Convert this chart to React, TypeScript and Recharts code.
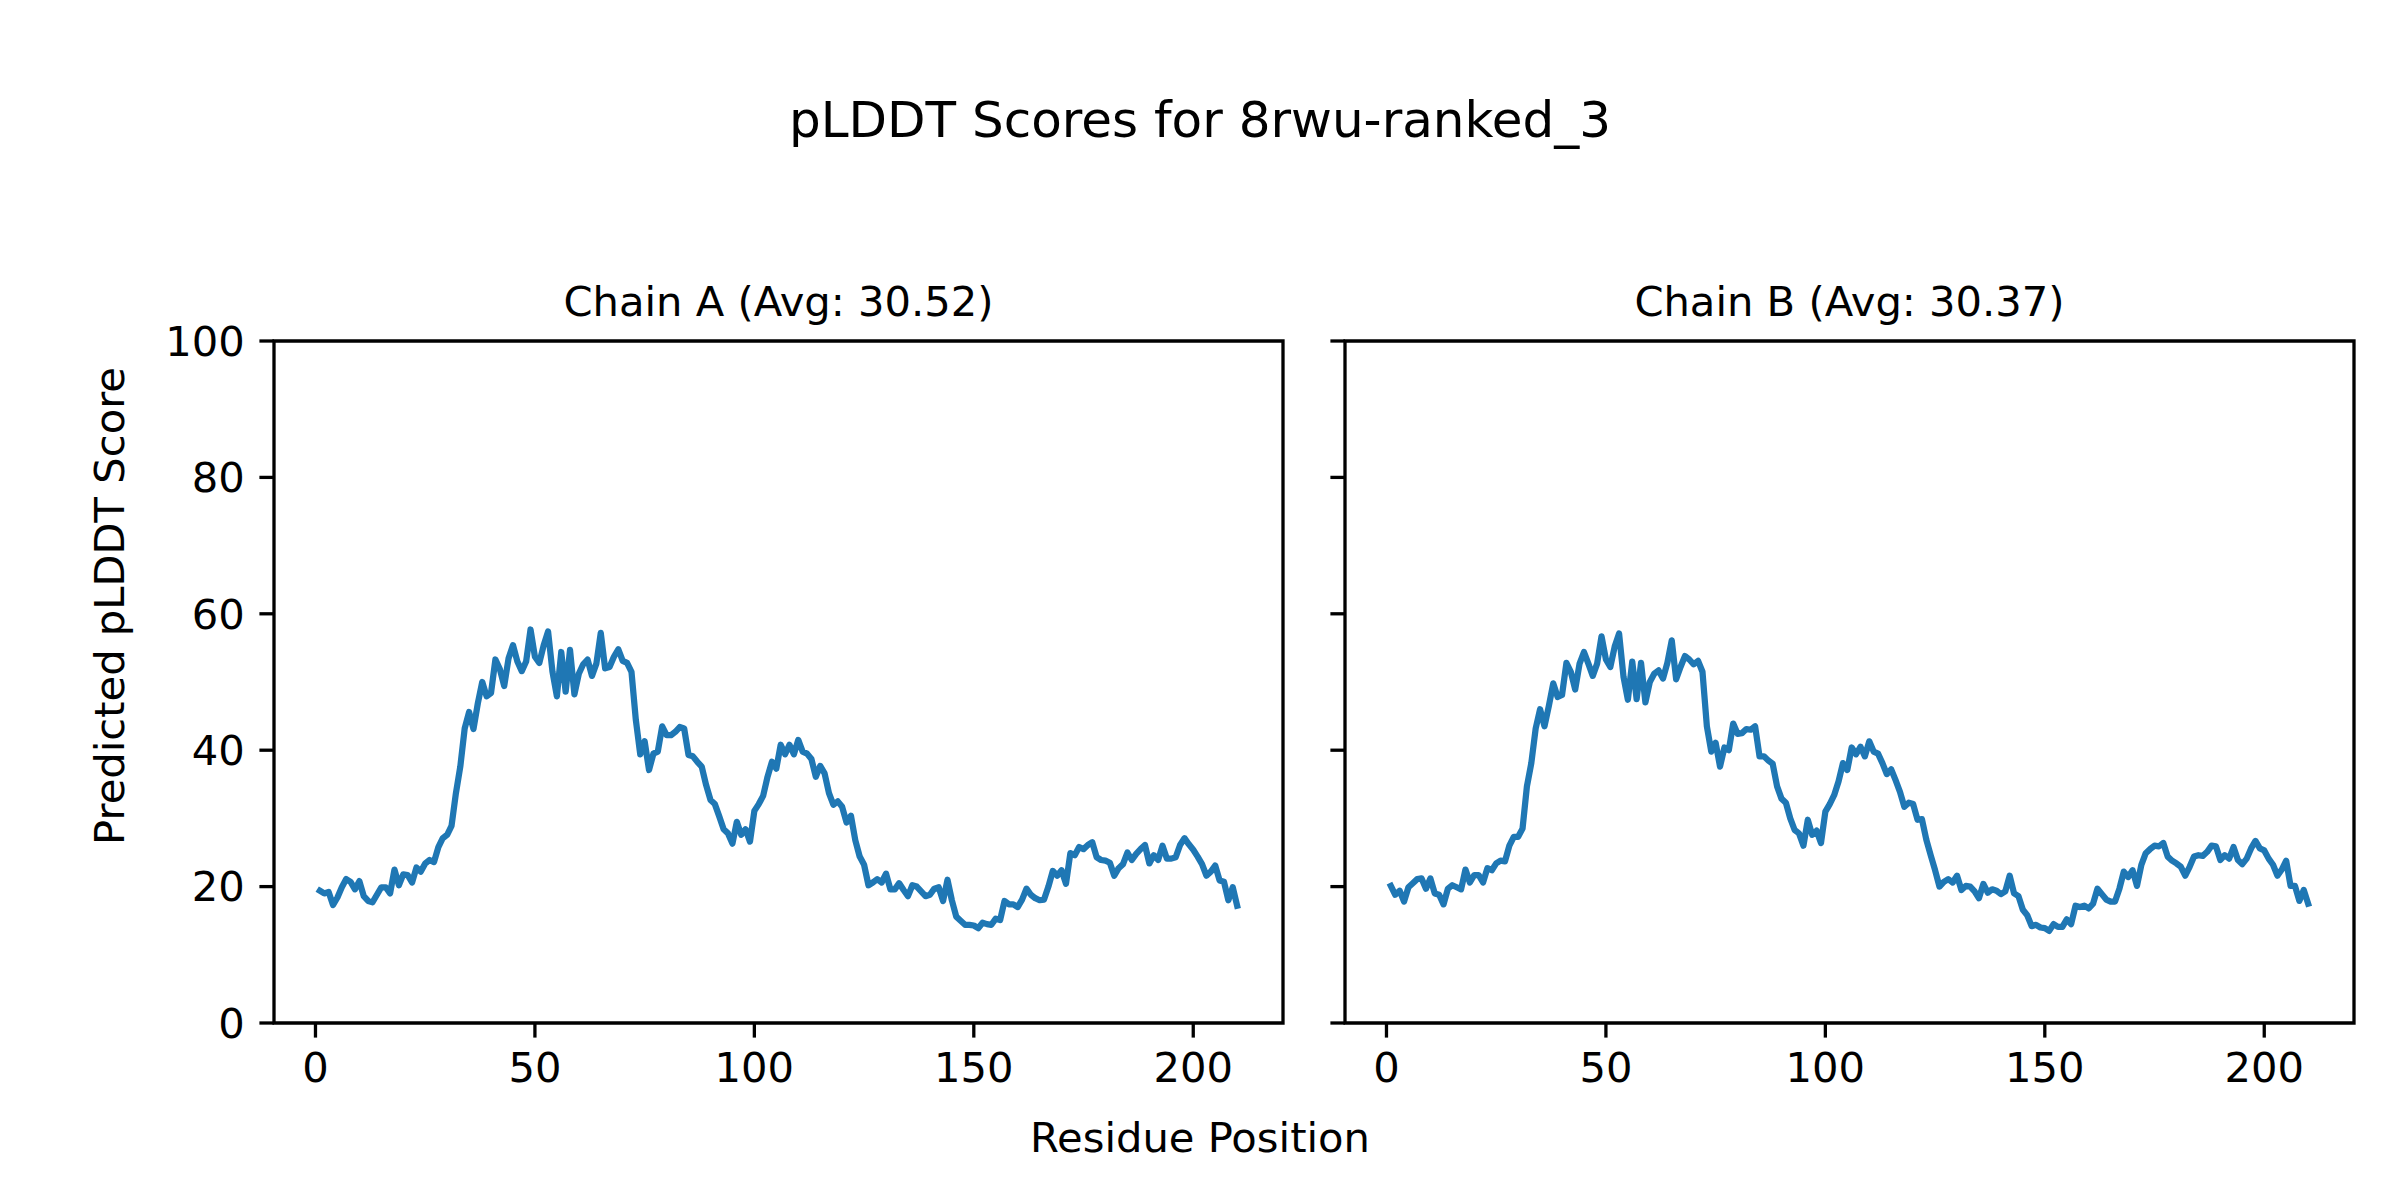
import { LineChart, Line, XAxis, YAxis, ReferenceArea } from "recharts";

// pLDDT per residue (residues 1..210)
const chainAScores = [
  19.4, 19.0, 19.2, 17.3, 18.4, 19.9, 21.1, 20.7, 19.6, 20.8,
  18.6, 17.9, 17.7, 18.8, 19.9, 19.9, 19.0, 22.5, 20.2, 21.8,
  21.7, 20.6, 22.8, 22.2, 23.4, 23.9, 23.6, 25.8, 27.1, 27.6,
  28.9, 33.7, 37.6, 43.2, 45.6, 43.1, 46.9, 50.0, 47.9, 48.4,
  53.3, 51.9, 49.4, 53.5, 55.4, 53.0, 51.6, 53.0, 57.7, 53.7,
  52.8, 55.4, 57.4, 51.5, 47.9, 54.4, 48.6, 54.7, 48.2, 51.2,
  52.6, 53.3, 50.9, 52.7, 57.2, 52.0, 52.2, 53.7, 54.8, 53.1,
  52.8, 51.5, 44.4, 39.4, 41.3, 37.1, 39.5, 39.8, 43.5, 42.2,
  42.2, 42.7, 43.4, 43.2, 39.3, 39.1, 38.3, 37.6, 34.9, 32.7,
  32.1, 30.3, 28.4, 27.8, 26.3, 29.5, 27.6, 28.4, 26.6, 31.1,
  32.1, 33.3, 36.1, 38.3, 37.3, 40.8, 39.4, 40.8, 39.4, 41.5,
  39.8, 39.5, 38.7, 36.1, 37.7, 36.6, 33.7, 32.0, 32.5, 31.7,
  29.4, 30.4, 26.8, 24.4, 23.2, 20.2, 20.6, 21.1, 20.6, 21.9,
  19.6, 19.6, 20.5, 19.5, 18.6, 20.2, 20.0, 19.3, 18.6, 18.8,
  19.7, 19.9, 17.9, 21.0, 18.0, 15.6, 15.0, 14.4, 14.4, 14.3,
  13.9, 14.7, 14.5, 14.4, 15.3, 15.1, 17.9, 17.4, 17.4, 17.0,
  18.1, 19.7, 18.8, 18.3, 18.0, 18.1, 20.0, 22.3, 21.6, 22.4,
  20.4, 24.9, 24.6, 25.8, 25.5, 26.1, 26.5, 24.3, 23.9, 23.8,
  23.5, 21.6, 22.7, 23.3, 25.0, 23.9, 24.8, 25.5, 26.1, 23.4,
  24.6, 23.9, 26.0, 24.1, 24.1, 24.3, 26.1, 27.1, 26.2, 25.4,
  24.4, 23.3, 21.6, 22.2, 23.1, 20.9, 20.7, 18.0, 19.9, 17.2,
];

const chainBScores = [
  20.1, 18.8, 19.4, 17.8, 19.9, 20.5, 21.1, 21.2, 19.7, 21.2,
  19.0, 18.8, 17.4, 19.7, 20.2, 19.9, 19.6, 22.5, 20.6, 21.7,
  21.7, 20.6, 22.7, 22.4, 23.4, 23.8, 23.7, 26.0, 27.3, 27.3,
  28.5, 34.7, 38.1, 43.2, 46.0, 43.5, 46.5, 49.8, 47.8, 48.1,
  52.8, 51.5, 48.9, 52.7, 54.4, 52.7, 50.9, 52.7, 56.7, 53.3,
  52.2, 55.2, 57.1, 50.8, 47.4, 53.0, 47.5, 52.8, 47.0, 50.0,
  51.2, 51.7, 50.5, 52.8, 56.1, 50.4, 52.2, 53.8, 53.3, 52.6,
  53.1, 51.5, 43.5, 39.8, 41.1, 37.6, 40.4, 40.0, 43.9, 42.4,
  42.5, 43.1, 43.0, 43.5, 39.1, 39.1, 38.5, 38.0, 34.7, 32.9,
  32.3, 30.0, 28.3, 27.8, 26.0, 29.8, 27.6, 28.2, 26.4, 31.0,
  32.1, 33.4, 35.4, 38.1, 37.1, 40.4, 39.4, 40.5, 39.1, 41.3,
  39.8, 39.5, 38.1, 36.5, 37.2, 35.6, 33.9, 31.7, 32.3, 32.1,
  29.8, 29.9, 26.9, 24.6, 22.4, 20.0, 20.7, 21.1, 20.6, 21.6,
  19.5, 20.1, 20.0, 19.3, 18.3, 20.4, 19.1, 19.6, 19.4, 18.9,
  19.3, 21.6, 19.0, 18.6, 16.6, 15.8, 14.2, 14.4, 14.0, 13.9,
  13.5, 14.5, 14.1, 14.1, 15.2, 14.5, 17.2, 17.0, 17.2, 16.8,
  17.5, 19.7, 18.9, 18.1, 17.8, 17.8, 19.7, 22.2, 21.4, 22.4,
  20.1, 23.2, 24.9, 25.5, 26.0, 25.9, 26.4, 24.4, 23.8, 23.4,
  22.9, 21.6, 22.9, 24.4, 24.6, 24.5, 25.1, 26.0, 25.9, 23.9,
  24.6, 24.1, 25.8, 23.9, 23.3, 24.1, 25.6, 26.7, 25.6, 25.3,
  24.1, 23.2, 21.6, 22.5, 23.8, 20.1, 20.1, 17.9, 19.5, 17.5,
];

const xTicks = [0, 50, 100, 150, 200];
const yTicks = [0, 20, 40, 60, 80, 100];
const xDomain = [-9.45, 220.45];
const yDomain = [0, 100];

const suptitle = "pLDDT Scores for 8rwu-ranked_3";
const chainATitle = "Chain A (Avg: 30.52)";
const chainBTitle = "Chain B (Avg: 30.37)";
const xLabel = "Residue Position";
const yLabel = "Predicted pLDDT Score";

const FONT = "DejaVu Sans";
const BLUE = "#1f77b4";
const tickStyle = { fill: "#000", fontSize: 41.67, fontFamily: FONT };

const toRows = (scores: number[]) =>
  scores.map((score, i) => ({ residue: i + 1, score }));

function Panel({ scores, yAxisWidth, width, marginRight, showYLabels }: {
  scores: number[];
  yAxisWidth: number;
  width: number;
  marginRight: number;
  showYLabels: boolean;
}) {
  return (
    <LineChart
      width={width}
      height={1150}
      data={toRows(scores)}
      margin={{ top: 341, right: marginRight, left: 0, bottom: 0 }}
    >
      <XAxis
        dataKey="residue"
        type="number"
        domain={xDomain}
        ticks={xTicks}
        allowDataOverflow
        height={127}
        axisLine={false}
        tickSize={14.6}
        tickMargin={14.6}
        tickLine={{ stroke: "#000", strokeWidth: 3.3 }}
        tick={tickStyle}
      />
      <YAxis
        type="number"
        domain={yDomain}
        ticks={yTicks}
        width={yAxisWidth}
        axisLine={false}
        tickSize={14.6}
        tickMargin={14.6}
        tickLine={{ stroke: "#000", strokeWidth: 3.3 }}
        tick={tickStyle}
        tickFormatter={(v: number) => (showYLabels ? String(v) : "")}
      />
      <Line
        type="linear"
        dataKey="score"
        stroke={BLUE}
        strokeWidth={6.25}
        strokeLinejoin="round"
        strokeLinecap="square"
        dot={false}
        activeDot={false}
        isAnimationActive={false}
      />
      {/* axes frame (all four spines) */}
      <ReferenceArea
        x1={xDomain[0]}
        x2={xDomain[1]}
        y1={yDomain[0]}
        y2={yDomain[1]}
        fill="none"
        stroke="#000"
        strokeWidth={3.3}
        ifOverflow="visible"
      />
    </LineChart>
  );
}

export default function App() {
  return (
    <div
      style={{
        position: "absolute",
        left: 0,
        top: 0,
        width: 2400,
        height: 1200,
        background: "#fff",
        fontFamily: FONT,
      }}
    >
      <div style={{ position: "absolute", left: 0, top: 0 }}>
        <Panel scores={chainAScores} width={1300} yAxisWidth={274} marginRight={17} showYLabels />
      </div>
      <div style={{ position: "absolute", left: 1200, top: 0 }}>
        <Panel scores={chainBScores} width={1200} yAxisWidth={145} marginRight={46} showYLabels={false} />
      </div>
      <svg
        width={2400}
        height={1200}
        style={{ position: "absolute", left: 0, top: 0, pointerEvents: "none" }}
        fontFamily={FONT}
      >
        <text x={1200} y={137} textAnchor="middle" fontSize={50} fill="#000">
          {suptitle}
        </text>
        <text x={778.5} y={316} textAnchor="middle" fontSize={41.67} fill="#000">
          {chainATitle}
        </text>
        <text x={1849.5} y={316} textAnchor="middle" fontSize={41.67} fill="#000">
          {chainBTitle}
        </text>
        <text x={1200} y={1152} textAnchor="middle" fontSize={41.67} fill="#000">
          {xLabel}
        </text>
        <text
          x={0}
          y={0}
          transform="translate(124 606) rotate(-90)"
          textAnchor="middle"
          fontSize={41.67}
          fill="#000"
        >
          {yLabel}
        </text>
      </svg>
    </div>
  );
}
